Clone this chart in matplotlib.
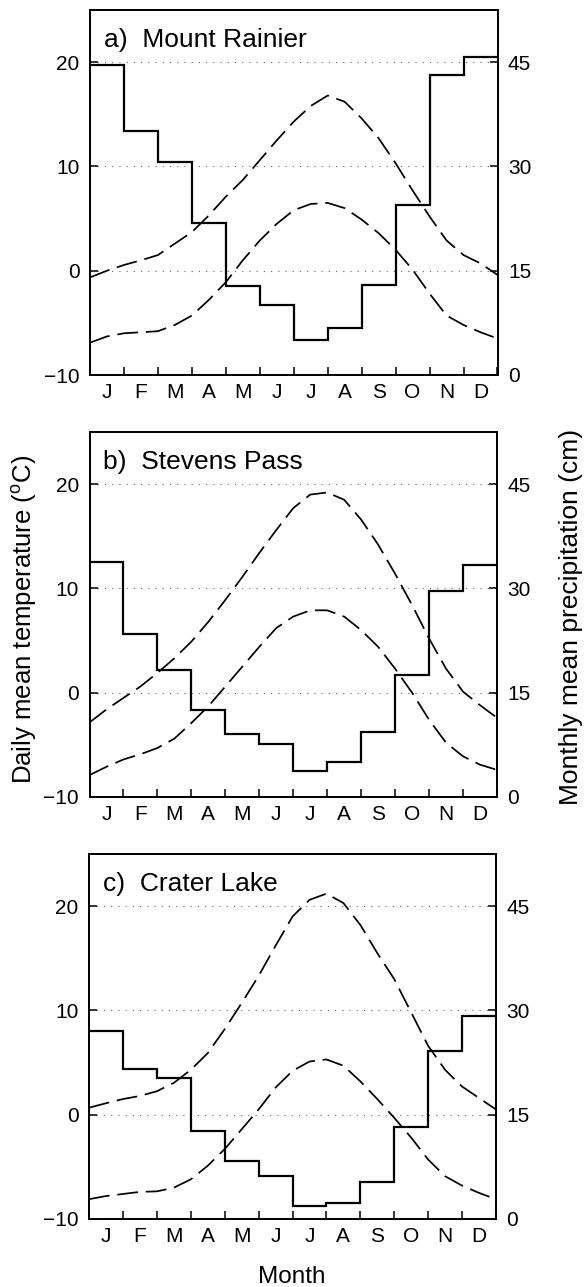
import numpy as np
import matplotlib
matplotlib.use("Agg")
import matplotlib.pyplot as plt

plt.rcParams['font.family'] = ['Liberation Sans', 'DejaVu Sans']
plt.rcParams['mathtext.fontset'] = 'custom'
plt.rcParams['mathtext.rm'] = 'Liberation Sans'

months = ['J', 'F', 'M', 'A', 'M', 'J', 'J', 'A', 'S', 'O', 'N', 'D']
month_edges = np.arange(13)
half_months = np.arange(0, 12.5, 0.5)

# monthly mean precipitation (cm)
precip_rainier = [44.6, 35.1, 30.6, 21.8, 12.8, 10.0, 5.0, 6.8, 12.9, 24.4, 43.2, 45.8]
precip_stevens = [33.75, 23.4, 18.2, 12.5, 9.1, 7.65, 3.7, 5.0, 9.3, 17.6, 29.7, 33.3]
precip_crater = [27.0, 21.6, 20.25, 12.6, 8.4, 6.15, 1.9, 2.3, 5.3, 13.2, 24.2, 29.2]

# daily mean max / min temperature (deg C), sampled every half month
tmax_rainier = [-0.64, 0.0, 0.55, 1.0, 1.5, 2.6, 3.7, 5.3, 7.1, 8.7, 10.6, 12.5, 14.3,
                15.8, 16.8, 16.2, 14.6, 12.7, 10.3, 7.7, 5.2, 2.9, 1.5, 0.7, -0.4]
tmin_rainier = [-6.9, -6.3, -6.0, -5.9, -5.8, -5.2, -4.3, -2.8, -1.1, 1.0, 2.9, 4.5, 5.8,
                6.4, 6.5, 6.0, 4.9, 3.6, 2.0, 0.1, -2.2, -4.3, -5.2, -5.9, -6.5]
tmax_stevens = [-2.85, -1.6, -0.5, 0.6, 1.9, 3.3, 4.9, 6.8, 8.9, 11.1, 13.4, 15.6, 17.7,
                19.0, 19.2, 18.5, 16.6, 14.2, 11.4, 8.4, 5.2, 2.3, 0.1, -1.2, -2.4]
tmin_stevens = [-7.9, -7.1, -6.4, -5.9, -5.3, -4.4, -2.9, -1.3, 0.6, 2.5, 4.4, 6.2, 7.3,
                7.9, 7.9, 7.3, 6.0, 4.4, 2.3, 0.0, -2.6, -4.8, -6.1, -6.9, -7.4]
tmax_crater = [0.67, 1.1, 1.5, 1.8, 2.25, 3.05, 4.3, 5.9, 8.2, 10.7, 13.3, 16.2, 19.0,
               20.6, 21.2, 20.3, 18.2, 15.5, 13.0, 9.8, 6.6, 4.3, 2.7, 1.6, 0.5]
tmin_crater = [-8.1, -7.8, -7.6, -7.4, -7.35, -7.0, -6.2, -4.9, -3.3, -1.4, 0.5, 2.6, 4.2,
               5.1, 5.3, 4.7, 3.2, 1.5, -0.3, -2.2, -4.3, -5.9, -6.8, -7.5, -8.1]

stations = [
    ('a)  Mount Rainier', precip_rainier, tmax_rainier, tmin_rainier),
    ('b)  Stevens Pass', precip_stevens, tmax_stevens, tmin_stevens),
    ('c)  Crater Lake', precip_crater, tmax_crater, tmin_crater),
]

W, H = 585, 1287
fig = plt.figure(figsize=(W / 100, H / 100), dpi=100)

# axes boxes in pixels: left, top, right, bottom
boxes = [(90, 10, 497.5, 375), (89.5, 432, 497, 797), (89, 854, 496, 1219)]

for (name, precip, tmax, tmin), (l, t, r, b) in zip(stations, boxes):
    ax = fig.add_axes([l / W, 1 - b / H, (r - l) / W, (b - t) / H])
    ax2 = ax.twinx()

    ax.set_xlim(0, 12)
    ax.set_ylim(-10, 25)
    ax2.set_ylim(0, 52.5)

    ax.set_yticks([-10, 0, 10, 20])
    ax2.set_yticks([0, 15, 30, 45])
    ax.set_xticks(month_edges)
    ax.set_xticklabels([])
    ax.set_xticks(np.arange(12) + 0.5, minor=True)
    ax.set_xticklabels(months, minor=True)

    ax.tick_params(axis='x', which='major', direction='in', length=5.5, width=1.1,
                   top=False)
    ax.tick_params(axis='x', which='minor', length=0, pad=5.5, labelsize=15)
    ax.tick_params(axis='y', direction='in', length=5.8, width=1.1, pad=7.5, labelsize=15)
    ax2.tick_params(axis='y', direction='in', length=5.8, width=1.1, pad=7.5, labelsize=15)

    for axis in (ax, ax2):
        for sp in axis.spines.values():
            sp.set_linewidth(1.25)

    for lvl in (0, 10, 20):
        ax.axhline(lvl, color='#666666', linestyle=(0, (1, 5.5)), linewidth=0.8, zorder=0)

    ax.plot(half_months, tmax, color='black', linewidth=1.25, dashes=(12, 4.5))
    ax.plot(half_months, tmin, color='black', linewidth=1.25, dashes=(12, 4.5))

    ax2.stairs(precip, month_edges, baseline=None, color='black', linewidth=1.6)

    ax.text(0.034, 0.8995, name, transform=ax.transAxes, fontsize=19,
            ha='left', va='baseline')

fig.text(24 / W, 1 - 619 / H, 'Daily mean temperature ($^{\\rm o}$C)', rotation=90,
         ha='center', va='center', fontsize=18.5)
fig.text(571 / W, 1 - 617 / H, 'Monthly mean precipitation (cm)', rotation=90,
         ha='center', va='center', fontsize=19)
fig.text(292 / W, 1 - 1283 / H, 'Month', ha='center', va='baseline', fontsize=17.5)

fig.savefig('out.png', dpi=100)
